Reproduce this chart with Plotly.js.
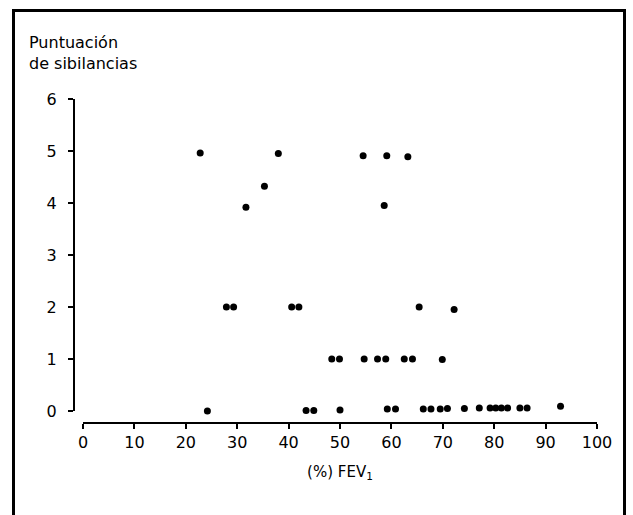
<!DOCTYPE html>
<html>
<head>
<meta charset="utf-8">
<script src="https://cdn.plot.ly/plotly-3.0.1.min.js"></script>
<style>
  html, body { margin: 0; padding: 0; background: #ffffff; overflow: hidden; }
  #wrap { position: relative; width: 633px; height: 515px; overflow: hidden; }
  #chart { position: absolute; left: 0; top: 0; width: 633px; height: 515px; z-index: 1; }
  .fr { position: absolute; background: #000000; pointer-events: none; z-index: 50; }
</style>
</head>
<body>
<div id="wrap">
  <div id="chart"></div>
  <div class="fr" style="left:12px; top:9px; width:614px; height:3px;"></div>
  <div class="fr" style="left:12px; top:9px; width:3px; height:520px;"></div>
  <div class="fr" style="left:623px; top:9px; width:3px; height:520px;"></div>
</div>
<script>
// FEV1 (%) and wheeze score
const fev1 = [22.8, 38.0, 54.5, 59.1, 63.2,
              35.3,
              31.7, 58.6,
              27.9, 29.3, 40.6, 42.0, 65.4, 72.2,
              48.4, 49.9, 54.7, 57.3, 58.9, 62.5, 64.1, 69.9,
              24.2, 43.4, 44.9, 50.0, 59.2, 60.8, 66.2, 67.7, 69.5, 70.9,
              74.2, 77.1, 79.2, 80.3, 81.4, 82.6, 85.0, 86.4, 92.9];
const wheeze = [4.96, 4.95, 4.91, 4.91, 4.89,
                4.32,
                3.92, 3.95,
                2.0, 2.0, 2.0, 2.0, 2.0, 1.95,
                1.0, 1.0, 1.0, 1.0, 1.0, 1.0, 1.0, 0.99,
                0.0, 0.01, 0.01, 0.02, 0.04, 0.04, 0.04, 0.04, 0.04, 0.05,
                0.05, 0.06, 0.06, 0.06, 0.06, 0.06, 0.06, 0.06, 0.09];
const xTicks = [0, 10, 20, 30, 40, 50, 60, 70, 80, 90, 100];
const yTicks = [0, 1, 2, 3, 4, 5, 6];

const font = 'DejaVu Sans, sans-serif';

const trace = {
  type: 'scatter', mode: 'markers', x: fev1, y: wheeze, cliponaxis: false,
  marker: { color: '#000000', size: 7, line: { width: 0 } }, hoverinfo: 'x+y'
};

const layout = {
  width: 633, height: 515,
  margin: { l: 74, r: 36, t: 99, b: 92, pad: 0 },
  paper_bgcolor: '#ffffff', plot_bgcolor: '#ffffff', showlegend: false,
  font: { family: font, size: 16, color: '#000000' },
  title: {
    text: 'Puntuación<br>de sibilancias',
    x: 29 / 633, xanchor: 'left', xref: 'container',
    y: 1 - 48 / 515, yanchor: 'top', yref: 'container',
    font: { family: font, size: 16, color: '#000000' }
  },
  xaxis: {
    range: [0, 100], domain: [9 / 523, 1], anchor: 'free', position: 0,
    tickvals: xTicks, ticktext: xTicks.map(String),
    ticks: 'outside', ticklen: 5, tickwidth: 2, tickcolor: '#000000',
    showline: true, linecolor: '#000000', linewidth: 2,
    showgrid: false, zeroline: false,
    tickfont: { family: font, size: 16, color: '#000000' },
    title: { text: '(%) FEV<sub>1</sub>', standoff: 14, font: { family: font, size: 15, color: '#000000' } }
  },
  yaxis: {
    range: [0, 6], domain: [12 / 324, 1], anchor: 'free', position: 0,
    tickvals: yTicks, ticktext: yTicks.map(String),
    ticks: 'outside', ticklen: 5, tickwidth: 2, tickcolor: '#000000',
    ticklabelstandoff: 8,
    showline: true, linecolor: '#000000', linewidth: 2,
    showgrid: false, zeroline: false,
    tickfont: { family: font, size: 16, color: '#000000' }
  }
};

Plotly.newPlot('chart', [trace], layout, { displayModeBar: false, responsive: false });
</script>
</body>
</html>
